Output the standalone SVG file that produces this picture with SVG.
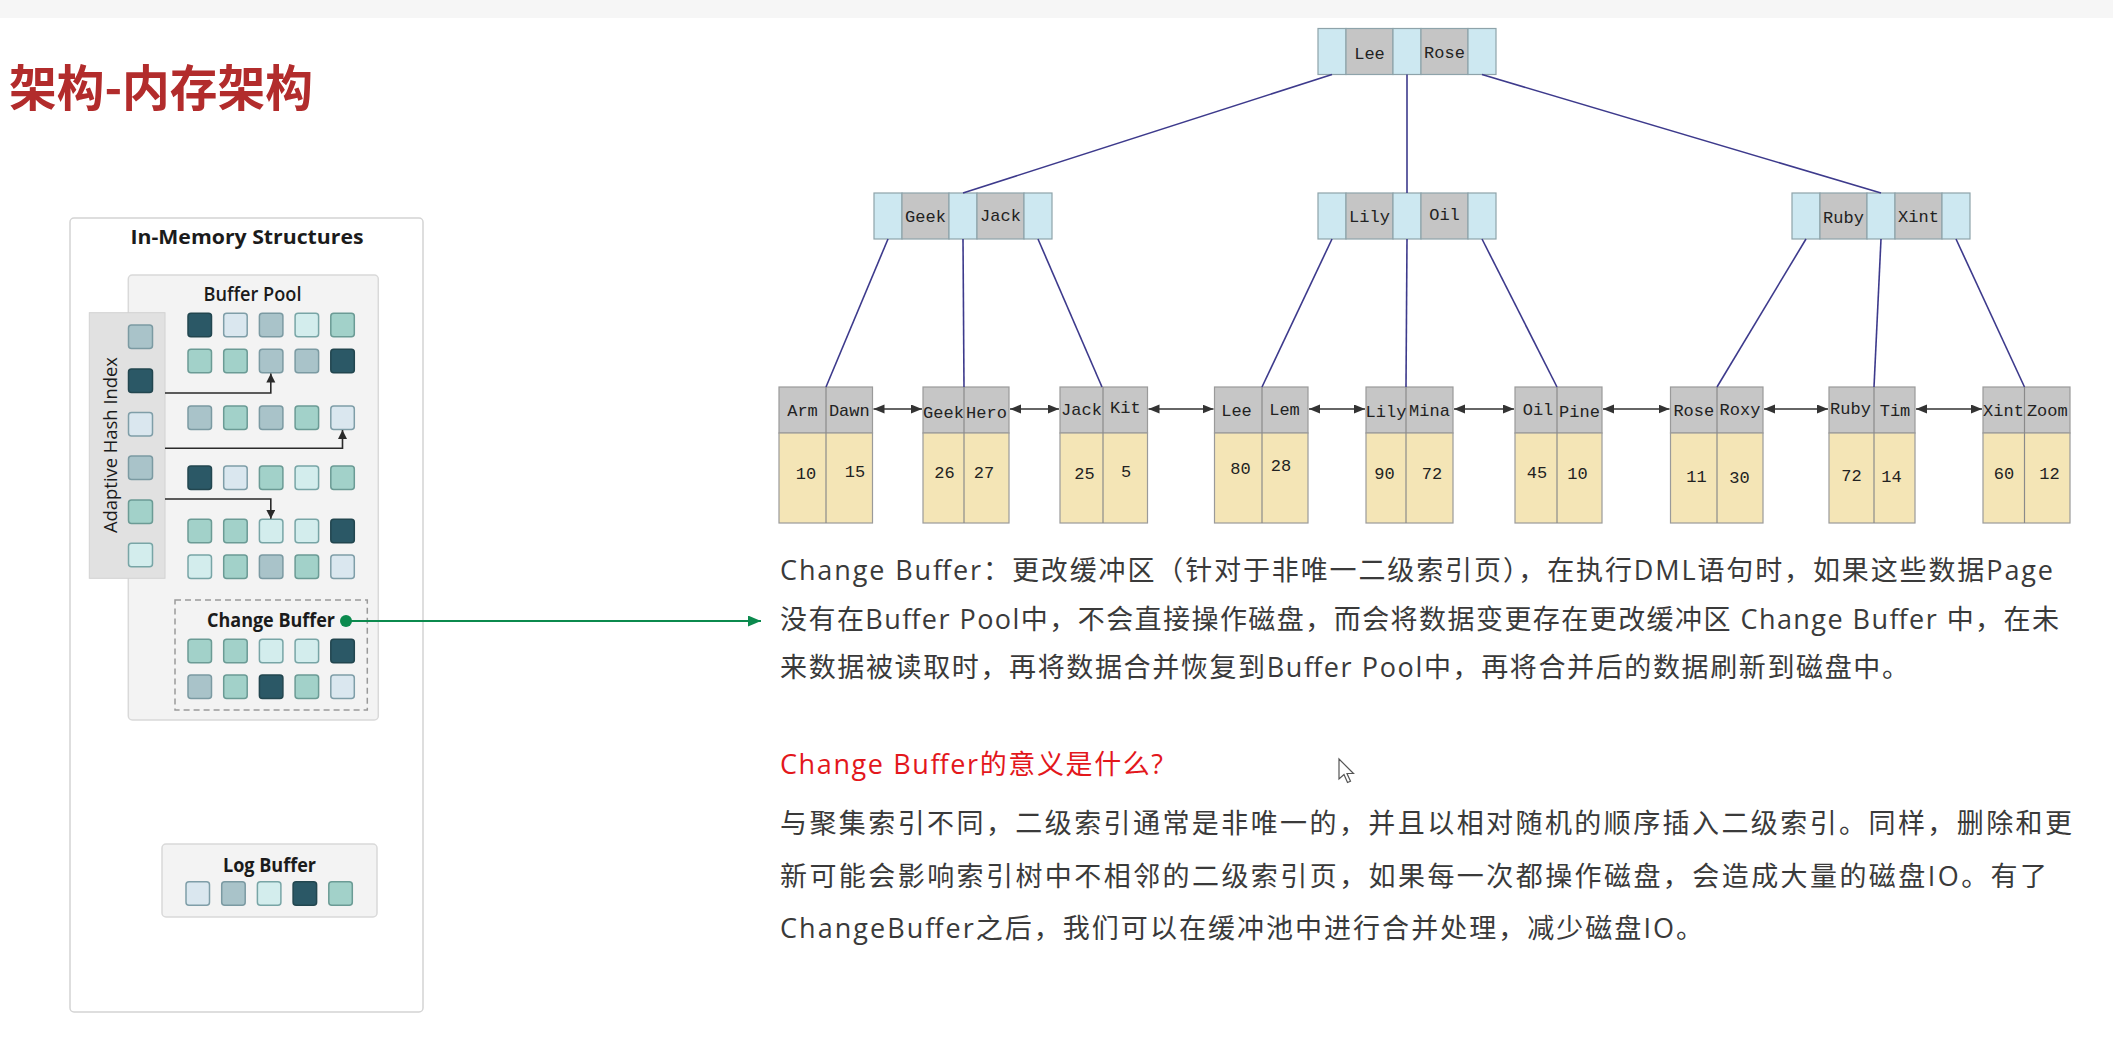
<svg xmlns="http://www.w3.org/2000/svg" width="2113" height="1045" viewBox="0 0 2113 1045">
<defs>
<style>
.sq{stroke-width:1.5}
.D{fill:#2b5866;stroke:#22464f}
.L{fill:#dae7ef;stroke:#7f9ea8}
.G{fill:#a9c3c9;stroke:#7b9aa2}
.T{fill:#a2d1c9;stroke:#6b9b95}
.C{fill:#d3eded;stroke:#78a5a6}
.panel{fill:#ffffff;stroke:#d4d4d4;stroke-width:1.5}
.pool{fill:#f3f3f3;stroke:#d9d9d9;stroke-width:1.5}
.ahi{fill:#e1e1e1;stroke:#d2d2d2;stroke-width:1}
.lbl{font-family:"Open Sans","Noto Sans",sans-serif;fill:#1b1b1b;font-size:19px}
.ib{fill:#cde8f1;stroke:#8ea3aa;stroke-width:1.2}
.ig{fill:#c5c5c5;stroke:#8ea3aa;stroke-width:1.2}
.lk{fill:#c6c6c6;stroke:#9a9a9a;stroke-width:1.2}
.lv{fill:#f4e5b6;stroke:#9a9a9a;stroke-width:1.2}
.ld{stroke:#8a8a8a;stroke-width:1.2}
.mono{font-family:"Liberation Mono","Courier New",monospace;font-size:17px;fill:#222;text-anchor:middle}
.tree{stroke:#3d3a8c;stroke-width:1.6;fill:none}
.link{stroke:#333;stroke-width:1.6;fill:none;marker-start:url(#dbl);marker-end:url(#dbl)}
.ahiarrow{stroke:#2a2a2a;stroke-width:1.6;fill:none;marker-end:url(#sm)}
.para{font-family:"Open Sans","Noto Sans CJK SC",sans-serif;font-size:27px;fill:#3a3a3a}
</style>
<marker id="sm" markerUnits="userSpaceOnUse" markerWidth="10" markerHeight="10" refX="9" refY="4.5" orient="auto"><path d="M0,0 L9,4.5 L0,9 Z" fill="#2a2a2a"/></marker>
<marker id="dbl" markerUnits="userSpaceOnUse" markerWidth="12" markerHeight="10" refX="11" refY="4.5" orient="auto-start-reverse"><path d="M0,0 L11,4.5 L0,9 Z" fill="#333"/></marker>
<marker id="grn" markerUnits="userSpaceOnUse" markerWidth="14" markerHeight="12" refX="13" refY="5.5" orient="auto"><path d="M0,0 L13,5.5 L0,11 Z" fill="#0b8a4e"/></marker>
<g id="inode">
<rect class="ib" x="0" y="0" width="28" height="46"/>
<rect class="ig" x="28" y="0" width="47" height="46"/>
<rect class="ib" x="75" y="0" width="28" height="46"/>
<rect class="ig" x="103" y="0" width="47" height="46"/>
<rect class="ib" x="150" y="0" width="28" height="46"/>
</g>
</defs>

<rect x="0" y="0" width="2113" height="1045" fill="#ffffff"/>
<rect x="0" y="0" width="2113" height="18" fill="#f6f6f6"/>

<g id="title">
<text x="9" y="106" font-family="Noto Sans CJK SC, sans-serif" font-weight="bold" font-size="49" fill="#b22c2c" textLength="304" lengthAdjust="spacingAndGlyphs">架构-内存架构</text>
</g>

<g id="in-memory-structures">
<rect class="panel" x="70" y="218" width="353" height="794" rx="4"/>
<text class="lbl" x="247" y="244" font-weight="bold" text-anchor="middle" textLength="233" lengthAdjust="spacingAndGlyphs">In-Memory Structures</text>
</g>

<g id="buffer-pool">
<rect class="pool" x="128.3" y="275" width="250" height="445" rx="4"/>
<text class="lbl" x="252.5" y="301" font-weight="600" text-anchor="middle" textLength="98" lengthAdjust="spacingAndGlyphs">Buffer Pool</text>
<g>
<rect class="sq D" x="188" y="313.3" width="23.5" height="23.5" rx="3"/>
<rect class="sq L" x="223.7" y="313.3" width="23.5" height="23.5" rx="3"/>
<rect class="sq G" x="259.4" y="313.3" width="23.5" height="23.5" rx="3"/>
<rect class="sq C" x="295.1" y="313.3" width="23.5" height="23.5" rx="3"/>
<rect class="sq T" x="330.8" y="313.3" width="23.5" height="23.5" rx="3"/>

<rect class="sq T" x="188" y="349.3" width="23.5" height="23.5" rx="3"/>
<rect class="sq T" x="223.7" y="349.3" width="23.5" height="23.5" rx="3"/>
<rect class="sq G" x="259.4" y="349.3" width="23.5" height="23.5" rx="3"/>
<rect class="sq G" x="295.1" y="349.3" width="23.5" height="23.5" rx="3"/>
<rect class="sq D" x="330.8" y="349.3" width="23.5" height="23.5" rx="3"/>

<rect class="sq G" x="188" y="406" width="23.5" height="23.5" rx="3"/>
<rect class="sq T" x="223.7" y="406" width="23.5" height="23.5" rx="3"/>
<rect class="sq G" x="259.4" y="406" width="23.5" height="23.5" rx="3"/>
<rect class="sq T" x="295.1" y="406" width="23.5" height="23.5" rx="3"/>
<rect class="sq L" x="330.8" y="406" width="23.5" height="23.5" rx="3"/>

<rect class="sq D" x="188" y="466" width="23.5" height="23.5" rx="3"/>
<rect class="sq L" x="223.7" y="466" width="23.5" height="23.5" rx="3"/>
<rect class="sq T" x="259.4" y="466" width="23.5" height="23.5" rx="3"/>
<rect class="sq C" x="295.1" y="466" width="23.5" height="23.5" rx="3"/>
<rect class="sq T" x="330.8" y="466" width="23.5" height="23.5" rx="3"/>

<rect class="sq T" x="188" y="519.3" width="23.5" height="23.5" rx="3"/>
<rect class="sq T" x="223.7" y="519.3" width="23.5" height="23.5" rx="3"/>
<rect class="sq C" x="259.4" y="519.3" width="23.5" height="23.5" rx="3"/>
<rect class="sq C" x="295.1" y="519.3" width="23.5" height="23.5" rx="3"/>
<rect class="sq D" x="330.8" y="519.3" width="23.5" height="23.5" rx="3"/>

<rect class="sq C" x="188" y="555" width="23.5" height="23.5" rx="3"/>
<rect class="sq T" x="223.7" y="555" width="23.5" height="23.5" rx="3"/>
<rect class="sq G" x="259.4" y="555" width="23.5" height="23.5" rx="3"/>
<rect class="sq T" x="295.1" y="555" width="23.5" height="23.5" rx="3"/>
<rect class="sq L" x="330.8" y="555" width="23.5" height="23.5" rx="3"/>
</g>
</g>

<g id="adaptive-hash-index">
<rect class="ahi" x="89.3" y="312.7" width="75.7" height="265.6"/>
<text class="lbl" transform="translate(117,445) rotate(-90)" x="0" y="0" text-anchor="middle" textLength="176" lengthAdjust="spacingAndGlyphs">Adaptive Hash Index</text>
<rect class="sq G" x="128.5" y="325" width="24" height="23.5" rx="3"/>
<rect class="sq D" x="128.5" y="369" width="24" height="23.5" rx="3"/>
<rect class="sq L" x="128.5" y="412.5" width="24" height="23.5" rx="3"/>
<rect class="sq G" x="128.5" y="456" width="24" height="23.5" rx="3"/>
<rect class="sq T" x="128.5" y="500" width="24" height="23.5" rx="3"/>
<rect class="sq C" x="128.5" y="543.3" width="24" height="23.5" rx="3"/>
</g>

<g id="change-buffer">
<rect x="175" y="600" width="192.3" height="110" fill="none" stroke="#9a9a9a" stroke-width="1.5" stroke-dasharray="6,4"/>
<text class="lbl" x="271" y="627" font-weight="bold" text-anchor="middle" textLength="128" lengthAdjust="spacingAndGlyphs">Change Buffer</text>
<rect class="sq T" x="188" y="639.3" width="23.5" height="23.5" rx="3"/>
<rect class="sq T" x="223.7" y="639.3" width="23.5" height="23.5" rx="3"/>
<rect class="sq C" x="259.4" y="639.3" width="23.5" height="23.5" rx="3"/>
<rect class="sq C" x="295.1" y="639.3" width="23.5" height="23.5" rx="3"/>
<rect class="sq D" x="330.8" y="639.3" width="23.5" height="23.5" rx="3"/>
<rect class="sq G" x="188" y="675" width="23.5" height="23.5" rx="3"/>
<rect class="sq T" x="223.7" y="675" width="23.5" height="23.5" rx="3"/>
<rect class="sq D" x="259.4" y="675" width="23.5" height="23.5" rx="3"/>
<rect class="sq T" x="295.1" y="675" width="23.5" height="23.5" rx="3"/>
<rect class="sq L" x="330.8" y="675" width="23.5" height="23.5" rx="3"/>
</g>

<g id="log-buffer">
<rect class="pool" x="162" y="844" width="215" height="73" rx="4"/>
<text class="lbl" x="269.5" y="872" font-weight="bold" text-anchor="middle" textLength="93" lengthAdjust="spacingAndGlyphs">Log Buffer</text>
<rect class="sq L" x="186" y="881.7" width="23.5" height="23.5" rx="3"/>
<rect class="sq G" x="221.7" y="881.7" width="23.5" height="23.5" rx="3"/>
<rect class="sq C" x="257.4" y="881.7" width="23.5" height="23.5" rx="3"/>
<rect class="sq D" x="293.1" y="881.7" width="23.5" height="23.5" rx="3"/>
<rect class="sq T" x="328.8" y="881.7" width="23.5" height="23.5" rx="3"/>
</g>

<g id="root-node">
<use href="#inode" x="1318" y="28.5"/>
<text class="mono" x="1369.5" y="59">Lee</text>
<text class="mono" x="1444.5" y="58">Rose</text>
</g>
<g id="node-geek-jack">
<use href="#inode" x="874" y="193"/>
<text class="mono" x="925.5" y="222">Geek</text>
<text class="mono" x="1000.5" y="221">Jack</text>
</g>
<g id="node-lily-oil">
<use href="#inode" x="1318" y="193"/>
<text class="mono" x="1369.5" y="222">Lily</text>
<text class="mono" x="1444.5" y="220">Oil</text>
</g>
<g id="node-ruby-xint">
<use href="#inode" x="1792" y="193"/>
<text class="mono" x="1843.5" y="223">Ruby</text>
<text class="mono" x="1918.5" y="222">Xint</text>
</g>

<g id="leaf-arm-dawn">
<rect class="lk" x="779" y="387" width="93.5" height="46"/><rect class="lv" x="779" y="433" width="93.5" height="90"/>
<line class="ld" x1="826" y1="387" x2="826" y2="523"/>
<text class="mono" x="802.5" y="416">Arm</text><text class="mono" x="849.3" y="416">Dawn</text>
<text class="mono" x="806" y="479">10</text><text class="mono" x="855" y="477">15</text>
</g>
<g id="leaf-geek-hero">
<rect class="lk" x="923" y="387" width="86" height="46"/><rect class="lv" x="923" y="433" width="86" height="90"/>
<line class="ld" x1="964" y1="387" x2="964" y2="523"/>
<text class="mono" x="943.5" y="418">Geek</text><text class="mono" x="986.5" y="418">Hero</text>
<text class="mono" x="944.5" y="478">26</text><text class="mono" x="984" y="478">27</text>
</g>
<g id="leaf-jack-kit">
<rect class="lk" x="1060" y="387" width="87.5" height="46"/><rect class="lv" x="1060" y="433" width="87.5" height="90"/>
<line class="ld" x1="1103" y1="387" x2="1103" y2="523"/>
<text class="mono" x="1081.5" y="415">Jack</text><text class="mono" x="1125.3" y="413">Kit</text>
<text class="mono" x="1084.5" y="479">25</text><text class="mono" x="1126" y="477">5</text>
</g>
<g id="leaf-lee-lem">
<rect class="lk" x="1214.5" y="387" width="93.5" height="46"/><rect class="lv" x="1214.5" y="433" width="93.5" height="90"/>
<line class="ld" x1="1262" y1="387" x2="1262" y2="523"/>
<text class="mono" x="1236.5" y="416">Lee</text><text class="mono" x="1284.5" y="415">Lem</text>
<text class="mono" x="1240.5" y="474">80</text><text class="mono" x="1281" y="471">28</text>
</g>
<g id="leaf-lily-mina">
<rect class="lk" x="1366" y="387" width="87" height="46"/><rect class="lv" x="1366" y="433" width="87" height="90"/>
<line class="ld" x1="1406" y1="387" x2="1406" y2="523"/>
<text class="mono" x="1386" y="417">Lily</text><text class="mono" x="1429.5" y="416">Mina</text>
<text class="mono" x="1384.5" y="479">90</text><text class="mono" x="1432" y="479">72</text>
</g>
<g id="leaf-oil-pine">
<rect class="lk" x="1515" y="387" width="87" height="46"/><rect class="lv" x="1515" y="433" width="87" height="90"/>
<line class="ld" x1="1557" y1="387" x2="1557" y2="523"/>
<text class="mono" x="1538" y="415">Oil</text><text class="mono" x="1579.5" y="417">Pine</text>
<text class="mono" x="1537" y="478">45</text><text class="mono" x="1577.5" y="479">10</text>
</g>
<g id="leaf-rose-roxy">
<rect class="lk" x="1670.5" y="387" width="92.5" height="46"/><rect class="lv" x="1670.5" y="433" width="92.5" height="90"/>
<line class="ld" x1="1717" y1="387" x2="1717" y2="523"/>
<text class="mono" x="1693.8" y="416">Rose</text><text class="mono" x="1740" y="415">Roxy</text>
<text class="mono" x="1696.5" y="482">11</text><text class="mono" x="1739.5" y="483">30</text>
</g>
<g id="leaf-ruby-tim">
<rect class="lk" x="1829" y="387" width="86" height="46"/><rect class="lv" x="1829" y="433" width="86" height="90"/>
<line class="ld" x1="1874" y1="387" x2="1874" y2="523"/>
<text class="mono" x="1850.5" y="414">Ruby</text><text class="mono" x="1895" y="416">Tim</text>
<text class="mono" x="1851.5" y="481">72</text><text class="mono" x="1891.5" y="482">14</text>
</g>
<g id="leaf-xint-zoom">
<rect class="lk" x="1983" y="387" width="87" height="46"/><rect class="lv" x="1983" y="433" width="87" height="90"/>
<line class="ld" x1="2024.5" y1="387" x2="2024.5" y2="523"/>
<text class="mono" x="2003.5" y="416">Xint</text><text class="mono" x="2047.3" y="416">Zoom</text>
<text class="mono" x="2004" y="479">60</text><text class="mono" x="2049.5" y="479">12</text>
</g>

<g id="connectors">
<line class="tree" x1="1332" y1="74.5" x2="963" y2="193"/>
<line class="tree" x1="1407" y1="74.5" x2="1407" y2="193"/>
<line class="tree" x1="1482" y1="74.5" x2="1881" y2="193"/>
<line class="tree" x1="888" y1="239" x2="826" y2="387"/>
<line class="tree" x1="963" y1="239" x2="964" y2="387"/>
<line class="tree" x1="1038" y1="239" x2="1102" y2="387"/>
<line class="tree" x1="1332" y1="239" x2="1262" y2="387"/>
<line class="tree" x1="1407" y1="239" x2="1406" y2="387"/>
<line class="tree" x1="1482" y1="239" x2="1557" y2="387"/>
<line class="tree" x1="1806" y1="239" x2="1717" y2="387"/>
<line class="tree" x1="1881" y1="239" x2="1874" y2="387"/>
<line class="tree" x1="1956" y1="239" x2="2024.5" y2="387"/>
<line class="link" x1="873.5" y1="409" x2="922" y2="409"/>
<line class="link" x1="1010" y1="409" x2="1059" y2="409"/>
<line class="link" x1="1148.5" y1="409" x2="1213.5" y2="409"/>
<line class="link" x1="1309" y1="409" x2="1365" y2="409"/>
<line class="link" x1="1454" y1="409" x2="1514" y2="409"/>
<line class="link" x1="1603" y1="409" x2="1669.5" y2="409"/>
<line class="link" x1="1764" y1="409" x2="1828" y2="409"/>
<line class="link" x1="1916" y1="409" x2="1982" y2="409"/>
<path class="ahiarrow" d="M165,393 H270.8 V373.5"/>
<path class="ahiarrow" d="M165,448.3 H342.5 V430"/>
<path class="ahiarrow" d="M165,499 H270.8 V518.8"/>
<line x1="346" y1="621" x2="761" y2="621" stroke="#0b8a4e" stroke-width="2" marker-end="url(#grn)"/>
<circle cx="346" cy="621" r="6" fill="#0b8a4e"/>
</g>

<g id="description">
<text class="para" x="780" y="580" textLength="1273" lengthAdjust="spacing">Change Buffer：更改缓冲区（针对于非唯一二级索引页），在执行DML语句时，如果这些数据Page</text>
<text class="para" x="780" y="629" textLength="1279" lengthAdjust="spacing">没有在Buffer Pool中，不会直接操作磁盘，而会将数据变更存在更改缓冲区 Change Buffer 中，在未</text>
<text class="para" x="780" y="677" textLength="1129" lengthAdjust="spacing">来数据被读取时，再将数据合并恢复到Buffer Pool中，再将合并后的数据刷新到磁盘中。</text>
<text class="para" x="780" y="774" style="fill:#e3171c" textLength="383" lengthAdjust="spacing">Change Buffer的意义是什么?</text>
<text class="para" x="780" y="833" textLength="1292" lengthAdjust="spacing">与聚集索引不同，二级索引通常是非唯一的，并且以相对随机的顺序插入二级索引。同样，删除和更</text>
<text class="para" x="780" y="886" textLength="1267" lengthAdjust="spacing">新可能会影响索引树中不相邻的二级索引页，如果每一次都操作磁盘，会造成大量的磁盘IO。有了</text>
<text class="para" x="780" y="938" textLength="923" lengthAdjust="spacing">ChangeBuffer之后，我们可以在缓冲池中进行合并处理，减少磁盘IO。</text>
</g>

<g id="cursor">
<path d="M1339,759 L1339,779 L1344,774.5 L1347.5,782.5 L1350.5,781.2 L1347,773.5 L1353.5,773.5 Z" fill="#ffffff" stroke="#555" stroke-width="1.2"/>
</g>
</svg>
